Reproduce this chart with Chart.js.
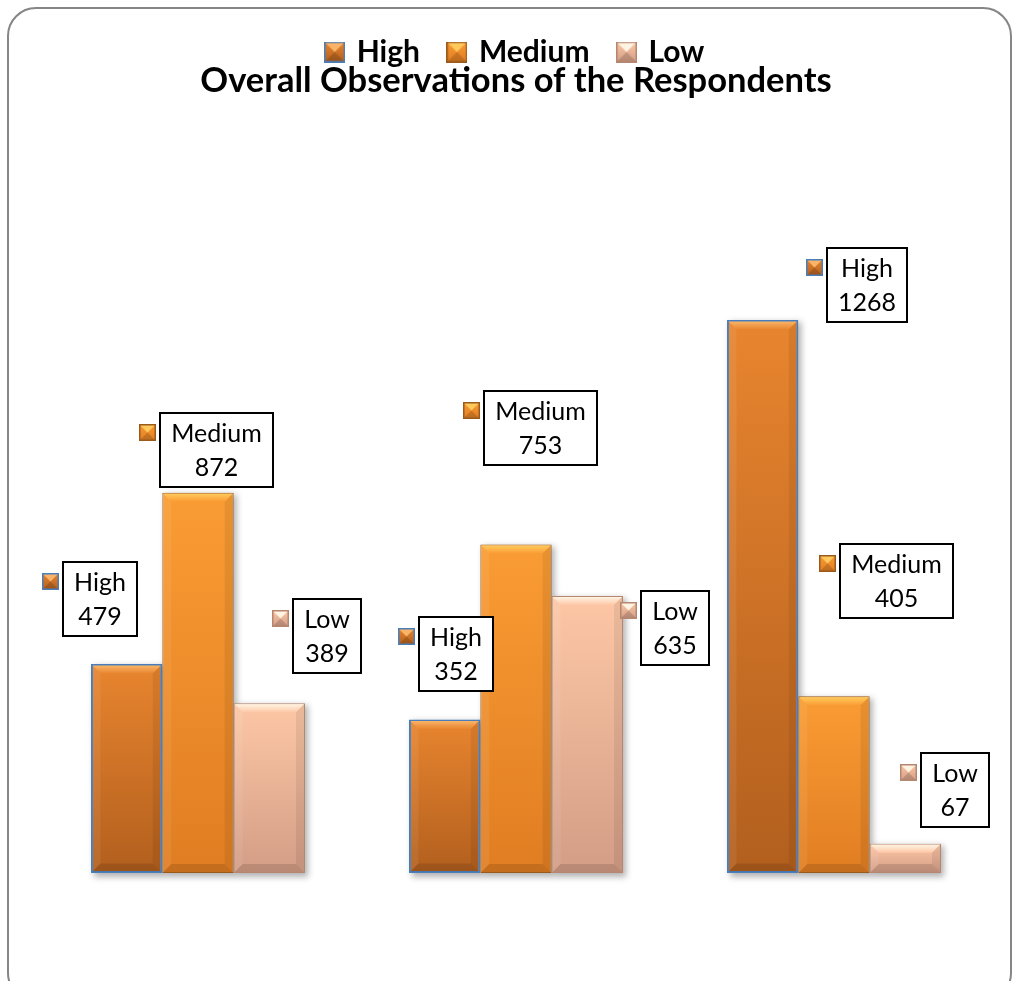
<!DOCTYPE html>
<html>
<head>
<meta charset="utf-8">
<title>Overall Observations of the Respondents</title>
<script src="https://cdn.jsdelivr.net/npm/chart.js@4.4.1/dist/chart.umd.min.js"></script>
<style>
    html, body { margin: 0; padding: 0; background: #fff; }
    canvas { display: block; }
</style>
</head>
<body>
<canvas id="observations" width="1019" height="981"></canvas>
<script>
// Chart data.
const GROUPS = ['1', '2', '3'];
const SERIES_NAMES = ['High', 'Medium', 'Low'];
const HIGH = [479, 352, 1268];
const MEDIUM = [872, 753, 405];
const LOW = [389, 635, 67];

const Y_MAX = 1400;

// Fill / edge colours per series: gradient top, gradient bottom, bevel light, outline.
const SERIES_STYLE = [
    { top: '#E8852F', bottom: '#B25F1E', bevel: '#F9B468', edge: '#4A7EBB', edgeWidth: 2 },
    { top: '#FA9C34', bottom: '#E07D22', bevel: '#FFC95C', edge: '#9A5A1C', edgeWidth: 1 },
    { top: '#FDC7A6', bottom: '#D39D86', bevel: '#FFF3E2', edge: '#B58670', edgeWidth: 1 },
];

// Where each callout box sits relative to the top centre of its bar: [dx of box centre, dy of box top].
const CALLOUT_OFFSETS = [
    [[-27, -102], [11, -102], [104, -72]],
    [[18, -80], [24, -154], [63, -152]],
    [[58, -104], [88, -5], [50, -91]],
];

const LABEL_FONT = '25px Lato';

function drawMarker(ctx, x, y, s, st) {
    const g = ctx.createLinearGradient(0, y, 0, y + s);
    g.addColorStop(0, st.top);
    g.addColorStop(1, st.bottom);
    ctx.fillStyle = g;
    ctx.fillRect(x, y, s, s);

    // lighter wedge hanging from the top edge
    ctx.fillStyle = st.bevel;
    ctx.beginPath();
    ctx.moveTo(x, y);
    ctx.lineTo(x + s, y);
    ctx.lineTo(x + s / 2, y + s * 0.5);
    ctx.closePath();
    ctx.fill();

    // darker wedge at the bottom
    ctx.fillStyle = 'rgba(0,0,0,0.15)';
    ctx.beginPath();
    ctx.moveTo(x, y + s);
    ctx.lineTo(x + s, y + s);
    ctx.lineTo(x + s / 2, y + s * 0.5);
    ctx.closePath();
    ctx.fill();

    ctx.strokeStyle = st.edge;
    ctx.lineWidth = 1.5;
    ctx.strokeRect(x + 0.75, y + 0.75, s - 1.5, s - 1.5);
}

function markerCanvas(st, size) {
    const c = document.createElement('canvas');
    c.width = size;
    c.height = size;
    drawMarker(c.getContext('2d'), 0, 0, size, st);
    return c;
}

function barGradient(context, st) {
    const chart = context.chart;
    const yScale = chart.scales.y;
    if (!yScale || context.raw === undefined) {
        return st.top;
    }
    const top = yScale.getPixelForValue(context.raw);
    const base = yScale.getPixelForValue(0);
    if (!isFinite(top) || !isFinite(base) || top === base) {
        return st.top;
    }
    const g = chart.ctx.createLinearGradient(0, top, 0, base);
    g.addColorStop(0, st.top);
    g.addColorStop(1, st.bottom);
    return g;
}

function barBox(bar) {
    const p = bar.getProps(['x', 'y', 'base', 'width'], true);
    return { l: p.x - p.width / 2, r: p.x + p.width / 2, t: p.y, b: p.base, cx: p.x };
}

// Rounded frame round the whole chart.
const framePlugin = {
    id: 'frame',
    beforeDraw(chart) {
        const ctx = chart.ctx;
        ctx.save();
        ctx.fillStyle = '#fff';
        ctx.fillRect(0, 0, chart.width, chart.height);
        ctx.strokeStyle = '#868686';
        ctx.lineWidth = 2;
        ctx.beginPath();
        ctx.roundRect(8, 8, chart.width - 16, chart.height + 12, 28);
        ctx.stroke();
        ctx.restore();
    },
};

// Soft drop shadows under the bars, then bevelled edges on top of them.
const bevelPlugin = {
    id: 'bevel',
    beforeDatasetsDraw(chart) {
        const ctx = chart.ctx;
        ctx.save();
        ctx.filter = 'blur(3px)';
        ctx.fillStyle = 'rgba(0,0,0,0.30)';
        chart.data.datasets.forEach((ds, i) => {
            chart.getDatasetMeta(i).data.forEach(bar => {
                const b = barBox(bar);
                ctx.fillRect(b.l + 3, b.t + 2, b.r - b.l, b.b - b.t + 2);
            });
        });
        ctx.restore();
    },
    afterDatasetsDraw(chart) {
        const ctx = chart.ctx;
        ctx.save();
        chart.data.datasets.forEach((ds, i) => {
            const st = SERIES_STYLE[i];
            const inset = st.edgeWidth / 2 + 0.5;
            chart.getDatasetMeta(i).data.forEach(bar => {
                const b = barBox(bar);
                const l = b.l + inset, r = b.r - inset, t = b.t + inset, bt = b.b - inset;
                const k = Math.min(8, (bt - t) / 2);

                const g = ctx.createLinearGradient(0, t, 0, t + k);
                g.addColorStop(0, st.bevel);
                g.addColorStop(1, st.top);
                ctx.fillStyle = g;
                ctx.beginPath();
                ctx.moveTo(l, t);
                ctx.lineTo(r, t);
                ctx.lineTo(r - k, t + k);
                ctx.lineTo(l + k, t + k);
                ctx.closePath();
                ctx.fill();

                ctx.fillStyle = 'rgba(255,255,255,0.07)';
                ctx.beginPath();
                ctx.moveTo(l, t);
                ctx.lineTo(l + k, t + k);
                ctx.lineTo(l + k, bt - k);
                ctx.lineTo(l, bt);
                ctx.closePath();
                ctx.fill();

                ctx.fillStyle = 'rgba(0,0,0,0.07)';
                ctx.beginPath();
                ctx.moveTo(r, t);
                ctx.lineTo(r, bt);
                ctx.lineTo(r - k, bt - k);
                ctx.lineTo(r - k, t + k);
                ctx.closePath();
                ctx.fill();

                ctx.fillStyle = 'rgba(0,0,0,0.12)';
                ctx.beginPath();
                ctx.moveTo(l, bt);
                ctx.lineTo(l + k, bt - k);
                ctx.lineTo(r - k, bt - k);
                ctx.lineTo(r, bt);
                ctx.closePath();
                ctx.fill();
            });
        });
        ctx.restore();
    },
};

// Boxed "series / value" callouts with a small series marker beside each box.
const calloutPlugin = {
    id: 'callouts',
    afterDatasetsDraw(chart) {
        const ctx = chart.ctx;
        ctx.save();
        ctx.font = LABEL_FONT;
        chart.data.datasets.forEach((ds, i) => {
            chart.getDatasetMeta(i).data.forEach((bar, j) => {
                const b = barBox(bar);
                const lines = [ds.label, String(ds.data[j])];
                const textW = Math.max(...lines.map(s => ctx.measureText(s).width));
                const w = Math.round(textW + 22);
                const h = 74;
                const [dx, dy] = CALLOUT_OFFSETS[i][j];
                const left = Math.round(b.cx + dx - w / 2);
                const top = Math.round(b.t + dy);

                ctx.fillStyle = '#fff';
                ctx.fillRect(left, top, w, h);
                ctx.strokeStyle = '#000';
                ctx.lineWidth = 2;
                ctx.strokeRect(left, top, w, h);

                ctx.fillStyle = '#000';
                ctx.textAlign = 'center';
                ctx.textBaseline = 'alphabetic';
                ctx.fillText(lines[0], left + w / 2, top + 29);
                ctx.fillText(lines[1], left + w / 2, top + 63);

                drawMarker(ctx, left - 21, top + 11, 17, SERIES_STYLE[i]);
            });
        });
        ctx.restore();
    },
};

const seriesValues = [HIGH, MEDIUM, LOW];

new Chart(document.getElementById('observations'), {
    type: 'bar',
    data: {
        labels: GROUPS,
        datasets: SERIES_NAMES.map((name, i) => ({
            label: name,
            data: seriesValues[i],
            backgroundColor: ctx => barGradient(ctx, SERIES_STYLE[i]),
            borderColor: SERIES_STYLE[i].edge,
            borderWidth: SERIES_STYLE[i].edgeWidth,
            borderSkipped: false,
            categoryPercentage: 0.673,
            barPercentage: 1.0,
        })),
    },
    options: {
        responsive: false,
        animation: false,
        events: [],
        layout: {
            padding: { top: 7, left: 39, right: 26, bottom: 108 },
        },
        plugins: {
            legend: {
                display: true,
                position: 'top',
                weight: 3000,
                labels: {
                    usePointStyle: true,
                    boxWidth: 14,
                    boxHeight: 20,
                    padding: 30,
                    color: '#000',
                    font: { family: 'Lato', size: 30, weight: 'bold' },
                    generateLabels: chart => chart.data.datasets.map((ds, i) => ({
                        text: ds.label,
                        pointStyle: markerCanvas(SERIES_STYLE[i], 21),
                        fillStyle: SERIES_STYLE[i].top,
                        strokeStyle: SERIES_STYLE[i].edge,
                        lineWidth: 0,
                        fontColor: '#000',
                        hidden: false,
                        datasetIndex: i,
                    })),
                },
            },
            title: {
                display: true,
                text: 'Overall Observations of the Respondents',
                color: '#000',
                font: { family: 'Lato', size: 34.5, weight: 'bold' },
                padding: { top: -17, bottom: 161 },
            },
            tooltip: { enabled: false },
        },
        scales: {
            x: {
                display: false,
                grid: { display: false },
            },
            y: {
                display: false,
                min: 0,
                max: Y_MAX,
                grid: { display: false },
            },
        },
    },
    plugins: [framePlugin, bevelPlugin, calloutPlugin],
});
</script>
</body>
</html>
